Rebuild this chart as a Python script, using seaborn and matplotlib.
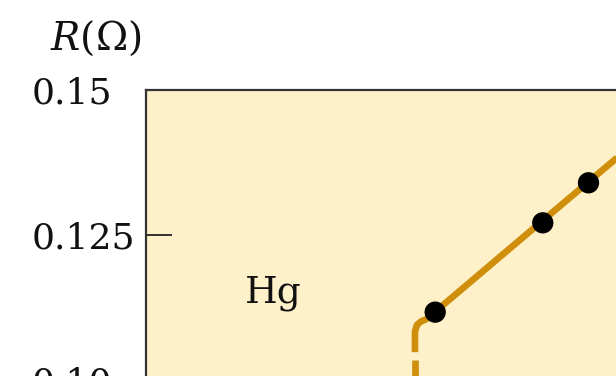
import matplotlib
matplotlib.use("Agg")
import matplotlib.pyplot as plt
import seaborn as sns
import pandas as pd

sns.set_style("ticks")
plt.rcParams["font.family"] = ["DejaVu Serif", "DejaVu Sans"]
plt.rcParams["mathtext.fontset"] = "dejavuserif"

# Measured resistance of mercury near its critical temperature
temp_meas = [4.215, 4.295, 4.329]          # K
res_meas = [0.1117, 0.1271, 0.1340]        # ohm

# Normal-state curve, bending into the drop at Tc
temp_curve = [4.200, 4.200, 4.2015, 4.2045, 4.2085, 4.400]
res_curve = [0.1048, 0.1084, 0.1095, 0.1101, 0.1105, 0.1481]

# Sudden drop to zero resistance at Tc
temp_drop = [4.200, 4.200]
res_drop = [0.1034, 0.000]

y_ticks = [0.10, 0.125, 0.15]
y_tick_labels = ["0.10", "0.125", "0.15"]

bg = "#FEF1C9"
line_col = "#CF8E0C"

W, H = 616, 376
fig = plt.figure(figsize=(W / 100, H / 100), dpi=100)
# axes frame: left edge at x=146px, top at y=90px; it runs past the right and bottom edges
ax_left, ax_top = 146, 90
ax_w, ax_h = 538, 870
ax = fig.add_axes([ax_left / W, 1 - (ax_top + ax_h) / H, ax_w / W, ax_h / H])
ax.set_facecolor(bg)

curve = pd.DataFrame({"T": temp_curve, "R": res_curve})
drop = pd.DataFrame({"T": temp_drop, "R": res_drop})
meas = pd.DataFrame({"T": temp_meas, "R": res_meas})

sns.lineplot(data=curve, x="T", y="R", sort=False, estimator=None, ax=ax,
             color=line_col, lw=4.8, solid_capstyle="butt", solid_joinstyle="round")
ax.plot(drop["T"], drop["R"], color=line_col, lw=4.8,
        linestyle=(0, (3.9, 1.6)), dash_capstyle="butt")
sns.scatterplot(data=meas, x="T", y="R", ax=ax, color="black", s=235,
                edgecolor="none", zorder=5)

ax.set_xlim(4.0, 4.4)
ax.set_ylim(0.0, 0.15)
ax.set_yticks(y_ticks)
ax.set_yticklabels(y_tick_labels)
ax.set_xticks([])
ax.set_xlabel("")
ax.set_ylabel("")
# labels share a common left edge at x=32px
ax.tick_params(axis="y", direction="in", length=19, width=1.3, color="#222222",
               labelsize=26, pad=(ax_left - 32) * 0.72)
for label in ax.get_yticklabels():
    label.set_horizontalalignment("left")
    label.set_verticalalignment("center_baseline")
    label.set_color("#111111")

for side in ["left", "top", "right", "bottom"]:
    ax.spines[side].set_color("#333333")
    ax.spines[side].set_linewidth(1.6)

ax.text(4.0736, 0.1133, "Hg", fontsize=27, ha="left", va="baseline", color="#111111")

fig.text(50 / W, 1 - 38 / H, "$R$(Ω)", fontsize=28, ha="left", va="center",
         color="#111111")

fig.savefig("out.png", dpi=100, facecolor="white")
